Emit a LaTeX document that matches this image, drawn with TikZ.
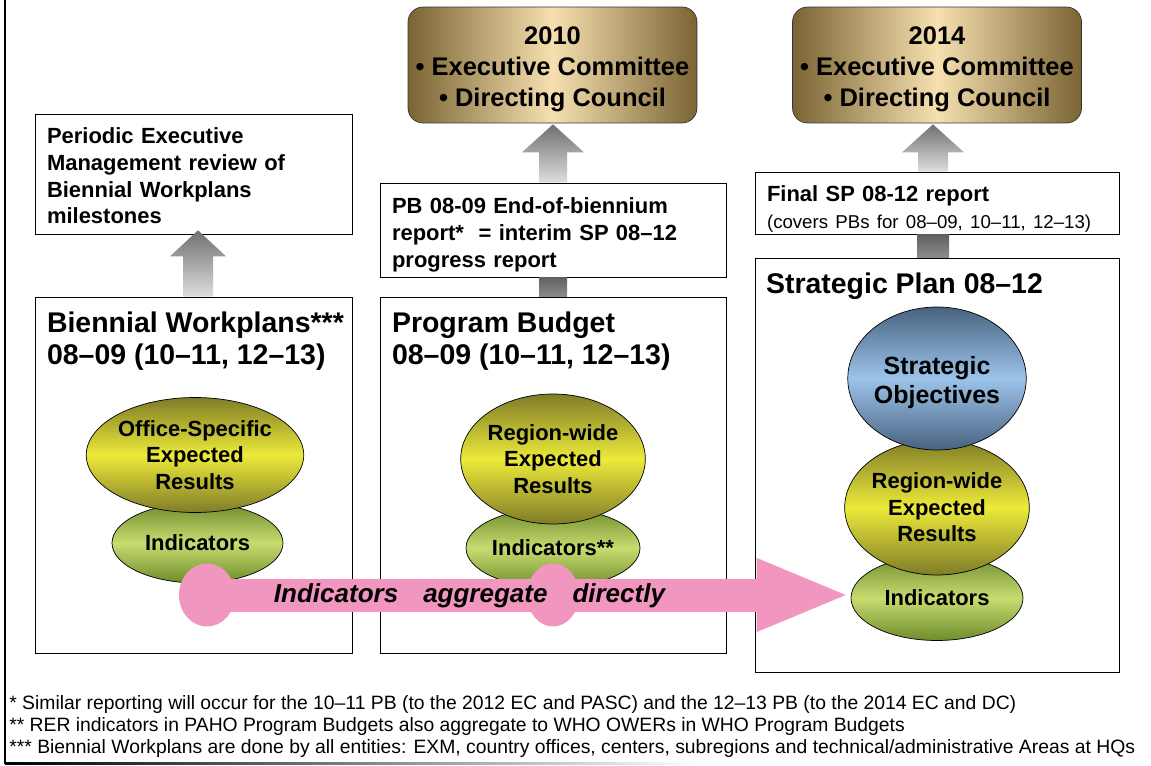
\documentclass[tikz,border=0pt]{standalone}
\usepackage{fontspec}
\setmainfont{Liberation Sans}
\usepackage{tikz}
\usetikzlibrary{arrows.meta, shapes.geometric, calc}

\definecolor{goldedge}{RGB}{122,100,52}
\definecolor{goldmid}{RGB}{247,224,176}
\definecolor{yelmid}{RGB}{236,234,58}
\definecolor{yeledge}{RGB}{128,124,40}
\definecolor{grnmid}{RGB}{200,220,112}
\definecolor{grnedge}{RGB}{110,140,44}
\definecolor{bluemid}{RGB}{156,196,234}
\definecolor{blueedge}{RGB}{72,98,128}
\definecolor{pinkarr}{RGB}{241,150,190}
\definecolor{arrdark}{RGB}{112,112,112}
\definecolor{arrlight}{RGB}{222,222,222}
\definecolor{bardark}{RGB}{96,96,96}
\definecolor{barlight}{RGB}{140,140,140}

\tikzset{
	firstpad/.style={execute at begin node={\rule{0pt}{#1}}},
	whitebox/.style={draw=black, fill=white, rectangle, inner sep=0pt},
	reportbox/.style={whitebox, align=left, inner xsep=0.24cm, font=\fontsize{12.5}{15.2}\selectfont\bfseries},
	goldbox/.style={draw=black!80, rounded corners=0.3cm, left color=goldedge, right color=goldedge, middle color=goldmid, align=center, font=\fontsize{14.5}{17.6}\selectfont\bfseries, minimum width=5.78cm, minimum height=2.32cm},
	title/.style={anchor=north west, inner sep=0pt, align=left, font=\fontsize{16.2}{18.2}\selectfont\bfseries},
	blob/.style={ellipse, draw=black, inner sep=0pt, align=center, font=\fontsize{12.5}{15}\selectfont\bfseries},
	yelblob/.style={blob, top color=yeledge, bottom color=yeledge, middle color=yelmid},
	grnblob/.style={blob, top color=grnedge, bottom color=grnedge, middle color=grnmid},
	blueblob/.style={blob, top color=blueedge, bottom color=blueedge, middle color=bluemid},
	pinkdot/.style={ellipse, fill=pinkarr, inner sep=0pt},
	grayarrow/.style={top color=arrdark, bottom color=arrlight},
	graybar/.style={top color=bardark, bottom color=barlight},
	footnote/.style={anchor=west, inner sep=0pt, font=\fontsize{11}{12}\selectfont}
}

\begin{document}
\begin{tikzpicture}[x=0.02cm, y=-0.02cm]
	\useasboundingbox (0,0) rectangle (1151,766);
	%frame
	\draw[line width=0.04cm] (5,0) -- (5,764);
	\shade[left color=black, right color=white] (5,762) rectangle (700,764);
	
	%meetings
	\node[goldbox] (ec10) at (552.5,65) {\rule{0pt}{0.53cm}2010\\• Executive Committee\\• Directing Council};
	\node[goldbox] (ec14) at (937,65) {\rule{0pt}{0.53cm}2014\\• Executive Committee\\• Directing Council};
	
	%reports
	\node[reportbox, minimum width=6.34cm, minimum height=2.4cm, text width=5.86cm, firstpad=0.4cm] (review) at (193.5,174) {Periodic Executive\\Management review of\\Biennial Workplans\\milestones};
	\node[reportbox, minimum width=6.92cm, minimum height=1.88cm, text width=6.44cm, firstpad=0.52cm] (pbreport) at (553,230) {PB 08-09 End-of-biennium\\report*~ = interim SP 08–12\\progress report};
	\node[reportbox, minimum width=7.28cm, minimum height=1.24cm, text width=6.8cm, firstpad=0.56cm] (spreport) at (937,203) {Final SP 08-12 report\\{\mdseries\fontsize{10.6}{13}\selectfont(covers PBs for 08–09, 10–11, 12–13)}};
	
	%plans
	\node[whitebox, minimum width=6.34cm, minimum height=7.12cm] (bwp) at (193.5,475) {};
	\node[whitebox, minimum width=6.92cm, minimum height=7.12cm] (pb) at (553,475) {};
	\node[whitebox, minimum width=7.28cm, minimum height=8.28cm] (sp) at (937,465) {};
	%
	\node[title] (bwptitle) at ([shift={(12,15)}]bwp.north west) {Biennial Workplans***\\08–09 (10–11, 12–13)};
	\node[title] (pbtitle) at ([shift={(12,15)}]pb.north west) {Program Budget\\08–09 (10–11, 12–13)};
	\node[title] (sptitle) at ([shift={(11,15)}]sp.north west) {Strategic Plan 08–12};
	
	%ellipses
	\node[grnblob, minimum width=3.42cm, minimum height=1.6cm] (wpind) at (197.5,543) {Indicators};
	\node[yelblob, minimum width=3.72cm, minimum height=2.3cm] (wper) at (195,455) {Office-Specific\\Expected\\Results};
	%
	\node[grnblob, minimum width=3.48cm, minimum height=1.6cm] (pbind) at (553,548) {Indicators**};
	\node[yelblob, minimum width=3.48cm, minimum height=2.6cm] (pber) at (553,459) {Region-wide\\Expected\\Results};
	%
	\node[grnblob, minimum width=3.44cm, minimum height=1.7cm] (spind) at (937,598) {Indicators};
	\node[yelblob, minimum width=3.44cm, minimum height=2.7cm] (sper) at (937,507.5) {Region-wide\\Expected\\Results};
	\node[blueblob, minimum width=3.44cm, minimum height=2.86cm, font=\fontsize{14.2}{16.8}\selectfont\bfseries] (spso) at (937,378.5) {\rule{0pt}{0.53cm}Strategic\\Objectives};
	
	%gray arrows
	\path ($(bwp.north)+(4.5,0)$) coordinate (ra0) ($(review.south)+(4.5,-4)$) coordinate (ra1);
	\shade[grayarrow] ($(ra0)+(-15,0)$) -- ($(ra1)+(-15,26)$) -- ($(ra1)+(-28,26)$) -- (ra1) -- ($(ra1)+(28,26)$) -- ($(ra1)+(15,26)$) -- ($(ra0)+(15,0)$) -- cycle;
	%
	\path (pbreport.north) coordinate (pa0) ($(ec10.south)+(0.5,1)$) coordinate (pa1);
	\shade[grayarrow] ($(pa0)+(-14,0)$) -- ($(pa1)+(-14,28)$) -- ($(pa1)+(-31,28)$) -- (pa1) -- ($(pa1)+(31,28)$) -- ($(pa1)+(14,28)$) -- ($(pa0)+(14,0)$) -- cycle;
	\shade[graybar] ($(pbreport.south)+(-14,0)$) rectangle ($(pb.north)+(14,0)$);
	%
	\path ($(spreport.north)+(-4,0)$) coordinate (sa0) ($(ec14.south)+(-4,1)$) coordinate (sa1);
	\shade[grayarrow] ($(sa0)+(-15,0)$) -- ($(sa1)+(-15,28)$) -- ($(sa1)+(-31,28)$) -- (sa1) -- ($(sa1)+(31,28)$) -- ($(sa1)+(15,28)$) -- ($(sa0)+(15,0)$) -- cycle;
	\shade[graybar] ($(spreport.south)+(-20,0)$) rectangle ($(sp.north)+(12,0)$);
	
	%pink arrow
	\node[pinkdot, minimum width=1.12cm, minimum height=1.26cm] (dot1) at (207,595) {};
	\node[pinkdot, minimum width=1.04cm, minimum height=1.26cm] (dot2) at (553,595) {};
	\draw[pinkarr, line width=0.66cm, -{Triangle[length=1.88cm, width=1.32cm]}] (dot1.center) -- (spind.west |- dot1.center);
	\node[inner sep=0pt, font=\fontsize{14.8}{16}\selectfont\bfseries\itshape] (aggtext) at (469.5,596) {Indicators\hspace{0.5cm}aggregate\hspace{0.5cm}directly};
	
	%footnotes
	\node[footnote] (fn1) at (9,704) {* Similar reporting will occur for the 10–11 PB (to the 2012 EC and PASC) and the 12–13 PB (to the 2014 EC and DC)};
	\node[footnote] (fn2) at (9,726) {** RER indicators in PAHO Program Budgets also aggregate to WHO OWERs in WHO Program Budgets};
	\node[footnote] (fn3) at (9,748) {*** Biennial Workplans are done by all entities: EXM, country offices, centers, subregions and technical/administrative Areas at HQs};
\end{tikzpicture}
\end{document}
